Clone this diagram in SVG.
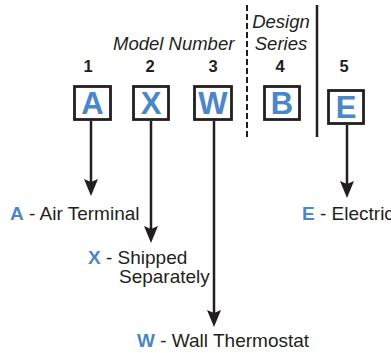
<svg xmlns="http://www.w3.org/2000/svg" width="391" height="353" viewBox="0 0 391 353">
<style>
text{font-family:"Liberation Sans",Arial,sans-serif;fill:#231f20}
.lbl{font-size:19px}
.it{font-size:18.5px;font-style:italic}
.num{font-size:16.5px;font-weight:bold;text-anchor:middle}
.big{font-size:31px;font-weight:bold;fill:#4a86c8;text-anchor:middle}
.code{font-weight:bold;fill:#4a86c8}
.box{fill:#fff;stroke:#231f20;stroke-width:2.8}
.con{stroke:#231f20;stroke-width:2.5;fill:none}
</style>
<defs>
<marker id="ah" markerUnits="userSpaceOnUse" viewBox="0 -7 17 14" markerWidth="17" markerHeight="14" refX="6" refY="0" orient="auto">
<path d="M0,-7 L17,0 L0,7 L3,0 z" fill="#231f20"/>
</marker>
</defs>
<g id="headers">
<text class="it" x="113" y="50">Model Number</text>
<text class="it" x="281" y="28" text-anchor="middle">Design</text>
<text class="it" x="281" y="50" text-anchor="middle">Series</text>
<text class="num" x="88" y="72">1</text>
<text class="num" x="150" y="72">2</text>
<text class="num" x="213" y="72">3</text>
<text class="num" x="280" y="72">4</text>
<text class="num" x="344" y="72">5</text>
</g>
<g id="dividers">
<line x1="247" y1="5" x2="247" y2="137" stroke="#231f20" stroke-width="2" stroke-dasharray="6,3"/>
<line x1="317" y1="5" x2="317" y2="137" stroke="#231f20" stroke-width="2.5"/>
</g>
<g id="connectors">
<line class="con" x1="91" y1="121" x2="91" y2="185" marker-end="url(#ah)"/>
<line class="con" x1="151" y1="121" x2="151" y2="232" marker-end="url(#ah)"/>
<line class="con" x1="214" y1="121" x2="214" y2="316" marker-end="url(#ah)"/>
<line class="con" x1="347" y1="125" x2="347" y2="187" marker-end="url(#ah)"/>
</g>
<g id="node-A">
<rect class="box" x="74.5" y="86.5" width="36" height="33"/>
<text class="big" x="92.5" y="114">A</text>
</g>
<g id="node-X">
<rect class="box" x="133.5" y="86.5" width="35" height="33"/>
<text class="big" x="151" y="114">X</text>
</g>
<g id="node-W">
<rect class="box" x="194.5" y="86.5" width="37" height="33"/>
<text class="big" x="213" y="114">W</text>
</g>
<g id="node-B">
<rect class="box" x="264.5" y="86.5" width="35" height="33"/>
<text class="big" x="282" y="114">B</text>
</g>
<g id="node-E">
<rect class="box" x="328.5" y="90.5" width="35" height="33"/>
<text class="big" x="346" y="118">E</text>
</g>
<g id="label-A">
<text class="lbl" x="10" y="220"><tspan class="code">A</tspan> - Air Terminal</text>
</g>
<g id="label-X">
<text class="lbl" x="88" y="264"><tspan class="code">X</tspan> - Shipped</text>
<text class="lbl" x="119" y="283">Separately</text>
</g>
<g id="label-W">
<text class="lbl" x="137" y="347"><tspan class="code">W</tspan> - Wall Thermostat</text>
</g>
<g id="label-E">
<text class="lbl" x="302" y="220"><tspan class="code">E</tspan> - Electric</text>
</g>
</svg>
